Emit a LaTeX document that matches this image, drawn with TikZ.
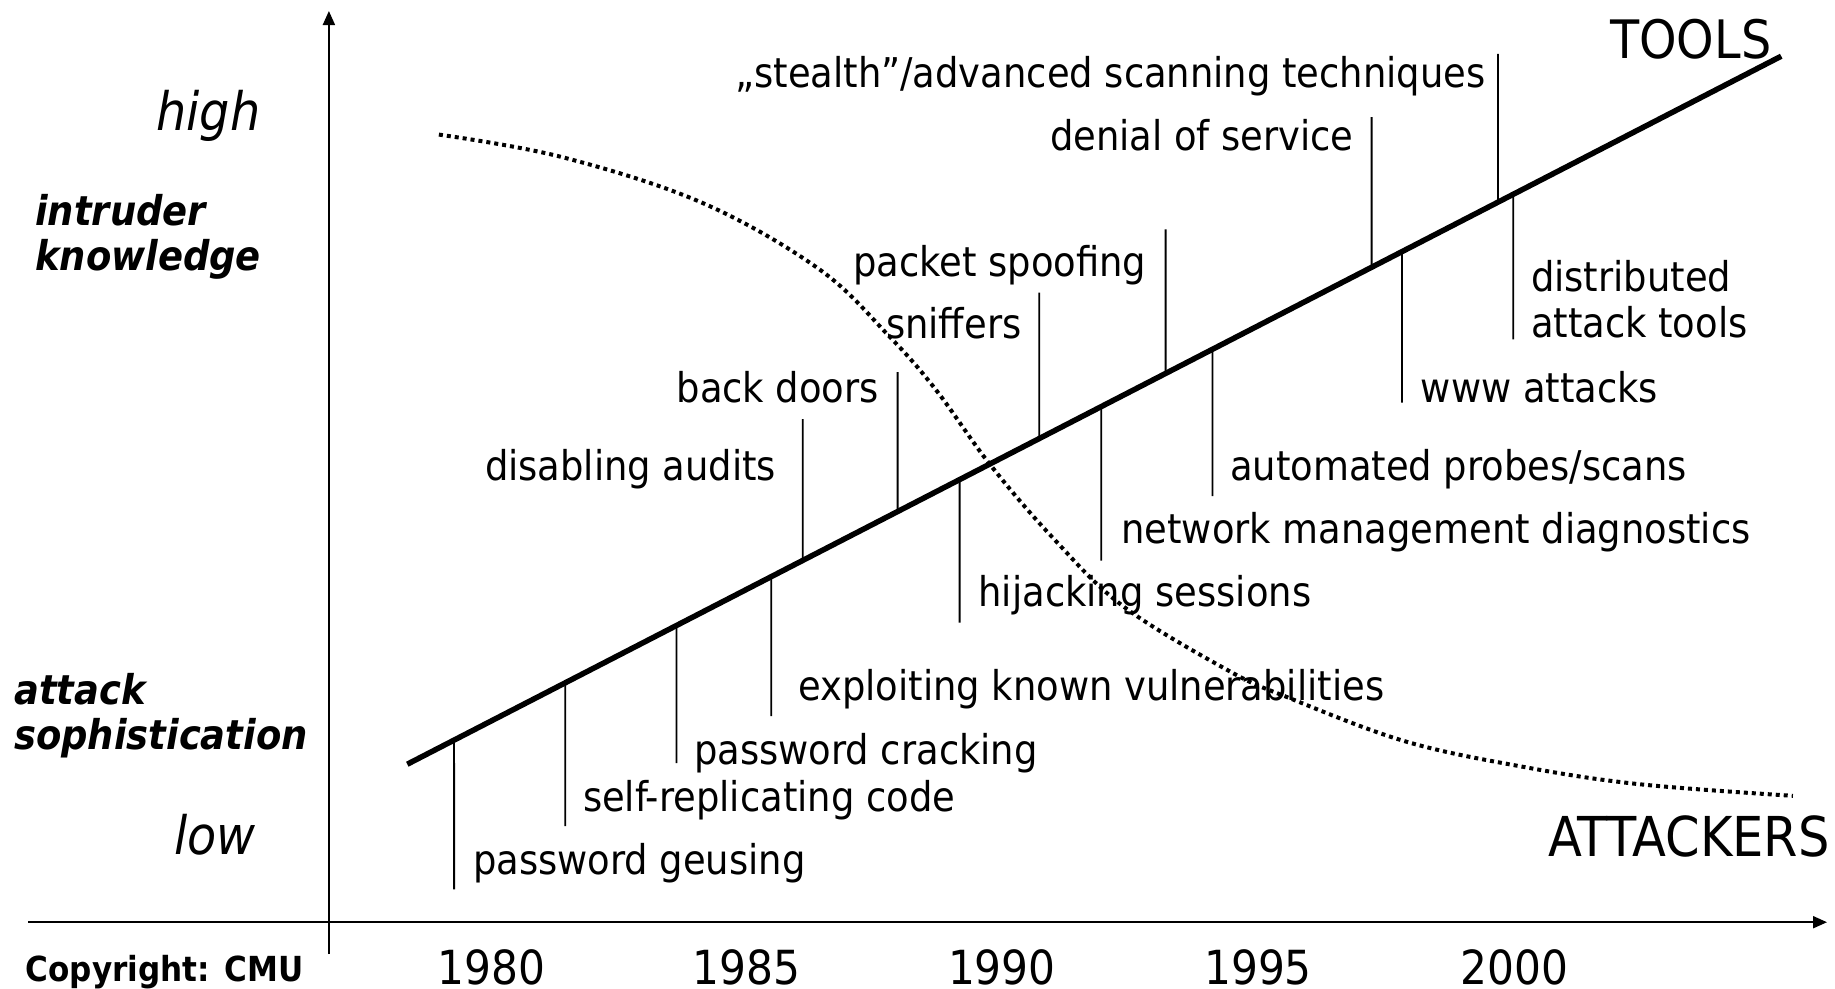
\documentclass[tikz,border=0pt]{standalone}
\usepackage{fontspec}
\setmainfont{DejaVu Sans Condensed}[
  BoldFont={DejaVu Sans Condensed Bold},
  ItalicFont={DejaVu Sans Condensed Oblique},
  BoldItalicFont={DejaVu Sans Condensed Bold Oblique}]
\usetikzlibrary{arrows.meta,calc}

\begin{document}
\begin{tikzpicture}[x=1pt,y=-1pt,
  axis/.style={line width=2pt,-{Triangle[length=14pt,width=12pt]}},
  toolline/.style={line width=5.5pt},
  leader/.style={line width=1.8pt},
  trend/.style={line width=4pt,dash pattern=on 4pt off 4pt},
  lbl/.style={inner sep=0pt,font=\fontsize{41}{46}\selectfont},
  side/.style={inner sep=0pt,font=\fontsize{41}{44.5}\selectfont\bfseries\itshape,align=left},
  level/.style={inner sep=0pt,font=\fontsize{53}{60}\selectfont\itshape},
  year/.style={inner sep=0pt,font=\fontsize{47}{54}\selectfont},
]
\useasboundingbox (0,0) rectangle (1835,988);

% axes
\coordinate (yb) at (328.9,954);
\coordinate (yt) at (328.9,11);
\coordinate (xl) at (28,922.2);
\coordinate (xr) at (1827,922.2);
\draw[axis] (yb) -- (yt);
\draw[axis] (xl) -- (xr);

% tools trend line
\coordinate (A) at (407.3,764.2);
\coordinate (B) at (1781.2,56.2);
\draw[toolline] (A) -- (B);

% attackers' knowledge curve
\coordinate (c0) at (438.9,134.6);
\coordinate (c1) at (1792.9,795.8);
\draw[trend] plot[smooth,tension=0.6] coordinates {
  (c0) (561.7,157.0) (702.2,202.8) (819.2,269.2) (889.4,336.5)
  (936.2,390.2) (990.1,464.6) (1053.3,538.3) (1123.5,606.5)
  (1228.8,670.8) (1287.3,697.2) (1404.4,741.1) (1521.4,766.5)
  (1638.4,784.1) (c1)};

% leaders from the trend line to the labels
\foreach \n/\x/\y in {pg/454.1/889.4, src/565.3/826.2, pc/676.4/763.0,
    ekv/771.2/716.2, da/802.8/419.0, bd/897.6/372.2, hs/959.6/622.6,
    sn/1039.2/292.6, nmd/1101.3/560.6, ps/1165.6/229.4, aps/1212.4/496.2,
    dos/1371.6/117.0, www/1402.0/402.6, st/1498.0/53.8, dat/1513.2/339.4}{
  \coordinate (e-\n) at (\x,\y);
  \coordinate (l-\n) at ($(A)!{(\x-407.3)/1373.9}!(B)$);
  \draw[leader] (l-\n) -- (e-\n);
}

% labels
\node[lbl,anchor=base west] (pg)  at (472.8,874.8) {password geusing};
\node[lbl,anchor=base west] (src) at (582.8,811.6) {self-replicating code};
\node[lbl,anchor=base west] (pc)  at (694.0,764.8) {password cracking};
\node[lbl,anchor=base west] (ekv) at (798.1,700.4) {exploiting known vulnerabilities};
\node[lbl,anchor=base east] (da)  at (776.5,480.4) {disabling audits};
\node[lbl,anchor=base west] (bd)  at (676.4,402.0) {back doors};
\node[lbl,anchor=base west] (sn)  at (885.9,338.8) {sniffers};
\node[lbl,anchor=base west] (ps)  at (853.2,276.8) {packet spoofing};
\node[lbl,anchor=base west] (hs)  at (978.4,606.8) {hijacking sessions};
\node[lbl,anchor=base west] (nmd) at (1121.1,543.6) {network management diagnostics};
\node[lbl,anchor=base west] (aps) at (1230.0,480.4) {automated probes/scans};
\node[lbl,anchor=base west] (dos) at (1049.8,150.4) {denial of service};
\node[lbl,anchor=base west] (www) at (1420.7,402.0) {www attacks};
\node[lbl,anchor=base west] (st)  at (735.0,87.2) {„stealth”/advanced scanning techniques};
\node[lbl,anchor=base west,align=left] (dat) at (1530.8,337.6) {distributed\\attack tools};

\node[inner sep=0pt,font=\fontsize{53}{60}\selectfont,anchor=base east] (tools) at (1771.5,58.5) {TOOLS};
\node[inner sep=0pt,font=\fontsize{55}{60}\selectfont,anchor=base east] (att) at (1830,856.5) {ATTACKERS};

% vertical scale
\node[level,anchor=base east] (high) at (260.5,130) {high};
\node[level,anchor=base east] (low)  at (256,854) {low};
\node[side,anchor=base west] (ik) at (35.1,270.3) {intruder\\knowledge};
\node[side,anchor=base west] (as) at (14.0,749.0) {attack\\sophistication};

% time scale
\foreach \yr/\x in {1980/491.5, 1985/746.6, 1990/1001.8, 1995/1258.1, 2000/1514.4}
  \node[year,anchor=base] (y\yr) at (\x,984) {\yr};
\node[inner sep=0pt,font=\fontsize{34.5}{41}\selectfont\bfseries,anchor=base west] (copy) at (25.7,981) {Copyright: CMU};
\end{tikzpicture}
\end{document}
